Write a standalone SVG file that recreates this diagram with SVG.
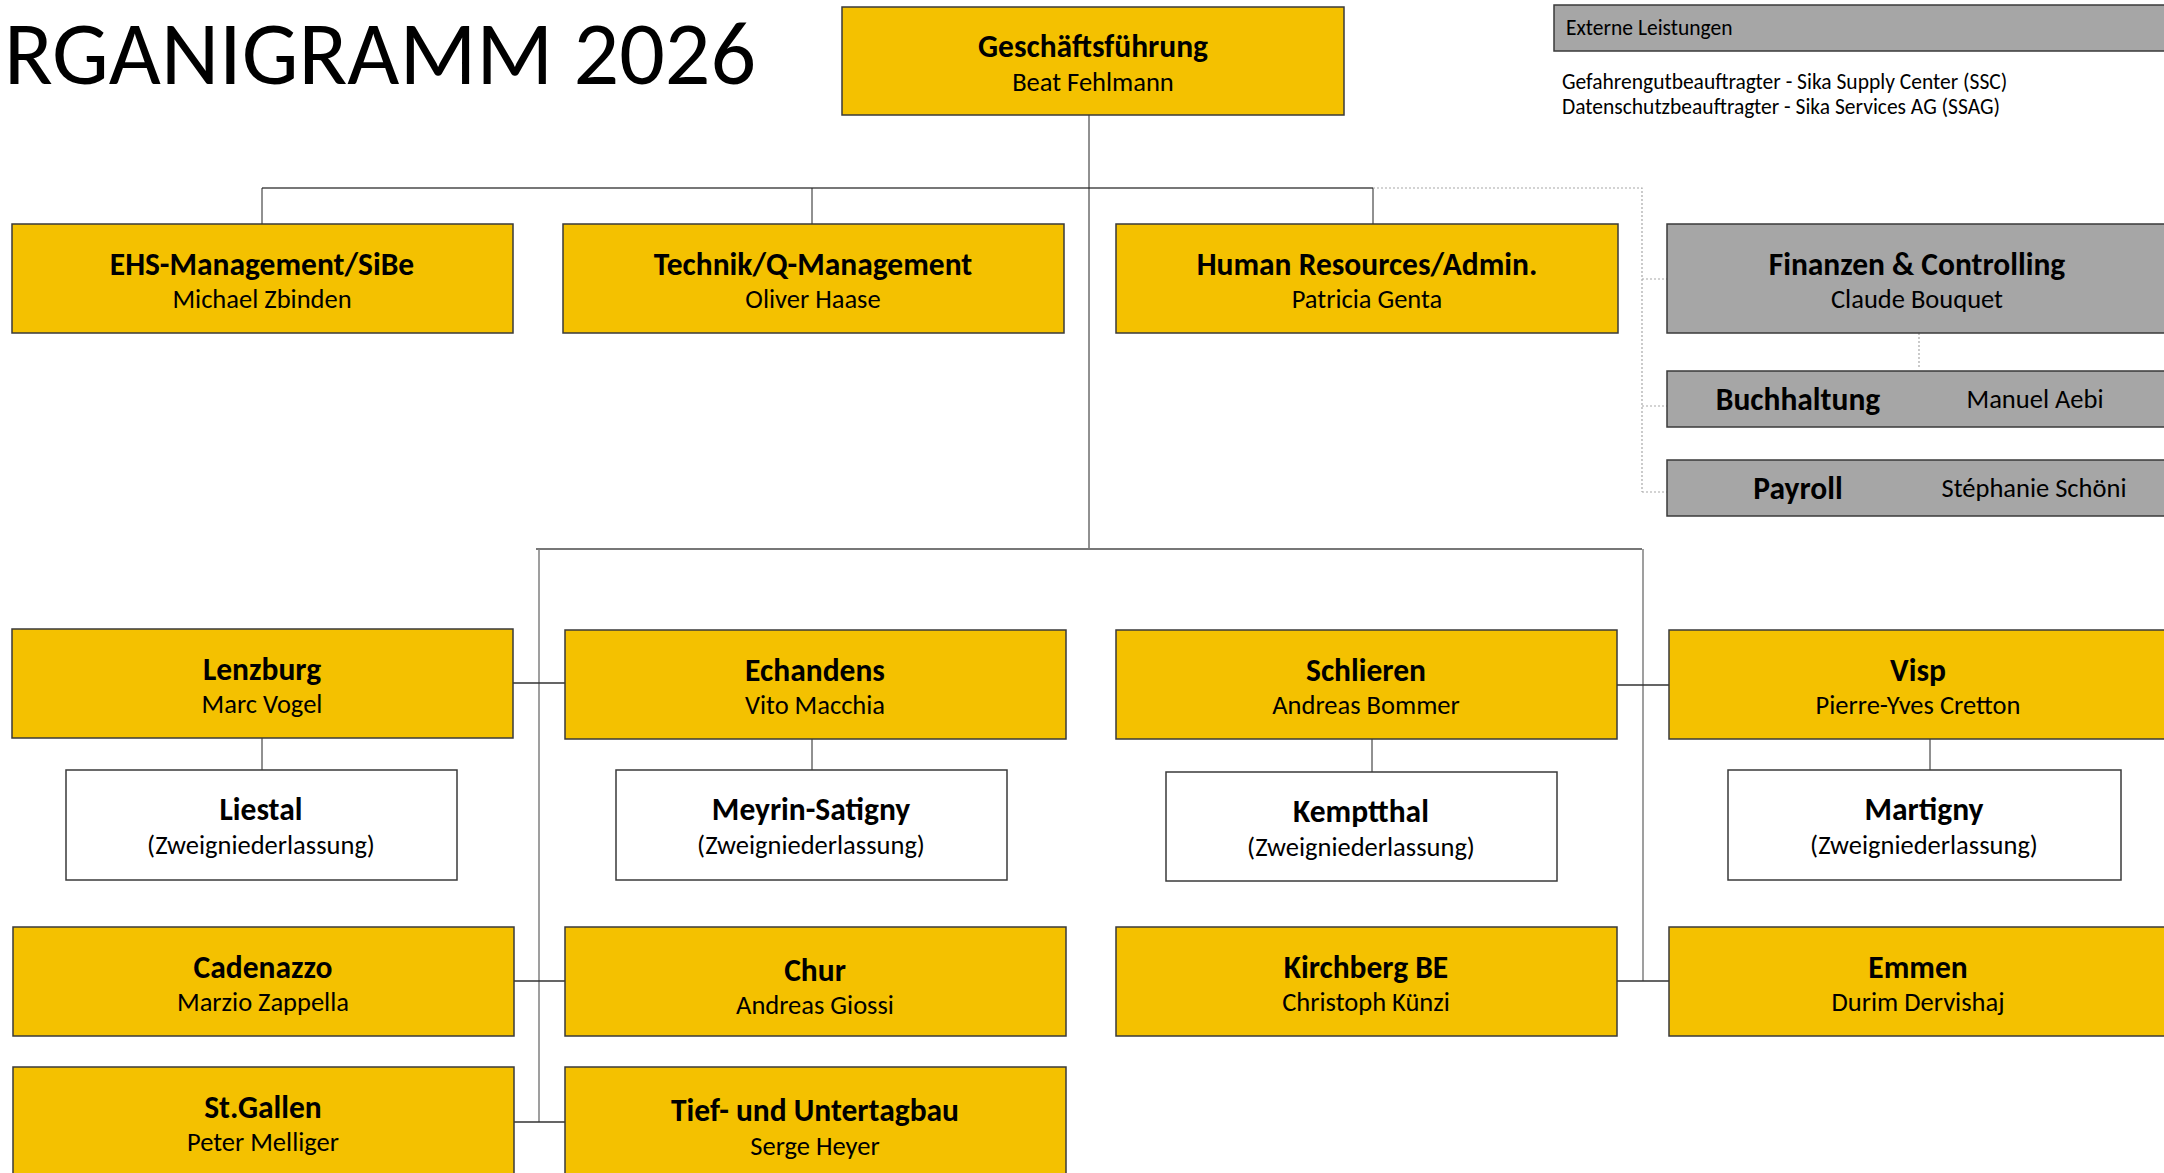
<svg xmlns="http://www.w3.org/2000/svg" width="2164" height="1173" viewBox="0 0 2164 1173">
<style>
text{font-family:Carlito,"Open Sans","Noto Sans",sans-serif;fill:#000}
.y{fill:#F4C100;stroke:#3a3a3a;stroke-width:1.5}
.g{fill:#A6A6A6;stroke:#3a3a3a;stroke-width:1.5}
.w{fill:#fff;stroke:#3a3a3a;stroke-width:1.5}
.h{font-weight:bold;font-size:31.5px;text-anchor:middle}
.n{font-size:26.5px;text-anchor:middle}
.s{font-size:21.5px}
.thin{stroke:#222;stroke-width:1;fill:none}
.bus{stroke:#777;stroke-width:2;fill:none}
.sp{stroke:#808080;stroke-width:1.5;fill:none}
.hc{stroke:#333;stroke-width:1.5;fill:none}
.dot{stroke:#a8a8a8;stroke-width:1.2;stroke-dasharray:2 2;fill:none}
</style>
<rect width="2164" height="1173" fill="#fff"/>
<text x="4" y="84" font-size="90">RGANIGRAMM 2026</text>

<g id="connectors">
<path class="bus" d="M262 188H1373"/>
<path class="thin" d="M1089 115V549M262 188V224M812 188V224M1373 188V224"/>
<path class="dot" d="M1373 188H1642V492M1642 279H1667M1642 406H1667M1642 492H1667M1919 333V368"/>
<path class="bus" d="M536 549H1642"/>
<path class="sp" d="M539 549V1122M1643 549V981"/>
<path class="hc" d="M513 683H565M514 981H565M514 1122H565M1617 685H1669M1617 981H1669"/>
<path class="thin" d="M262 738V770M812 739V770M1372 739V772M1930 739V770"/>
</g>

<g id="ext">
<rect class="g" x="1554" y="5" width="620" height="46"/>
<text class="s" x="1566" y="35">Externe Leistungen</text>
<text class="s" x="1562" y="89">Gefahrengutbeauftragter - Sika Supply Center (SSC)</text>
<text class="s" x="1562" y="114">Datenschutzbeauftragter - Sika Services AG (SSAG)</text>
</g>

<g id="gf"><rect class="y" x="842" y="7" width="502" height="108"/>
<text class="h" x="1093" y="57">Geschäftsführung</text><text class="n" x="1093" y="91">Beat Fehlmann</text></g>

<g id="ehs"><rect class="y" x="12" y="224" width="501" height="109"/>
<text class="h" x="262" y="275">EHS-Management/SiBe</text><text class="n" x="262" y="308">Michael Zbinden</text></g>
<g id="technik"><rect class="y" x="563" y="224" width="501" height="109"/>
<text class="h" x="813" y="275">Technik/Q-Management</text><text class="n" x="813" y="308">Oliver Haase</text></g>
<g id="hr"><rect class="y" x="1116" y="224" width="502" height="109"/>
<text class="h" x="1367" y="275">Human Resources/Admin.</text><text class="n" x="1367" y="308">Patricia Genta</text></g>
<g id="finanzen"><rect class="g" x="1667" y="224" width="510" height="109"/>
<text class="h" x="1917" y="275">Finanzen &amp; Controlling</text><text class="n" x="1917" y="308">Claude Bouquet</text></g>
<g id="buchhaltung"><rect class="g" x="1667" y="371" width="510" height="56"/>
<text class="h" x="1798" y="410">Buchhaltung</text><text class="n" x="2035" y="408">Manuel Aebi</text></g>
<g id="payroll"><rect class="g" x="1667" y="460" width="510" height="56"/>
<text class="h" x="1798" y="499">Payroll</text><text class="n" x="2034" y="497">Stéphanie Schöni</text></g>

<g id="lenzburg"><rect class="y" x="12" y="629" width="501" height="109"/>
<text class="h" x="262" y="680">Lenzburg</text><text class="n" x="262" y="713">Marc Vogel</text></g>
<g id="echandens"><rect class="y" x="565" y="630" width="501" height="109"/>
<text class="h" x="815" y="681">Echandens</text><text class="n" x="815" y="714">Vito Macchia</text></g>
<g id="schlieren"><rect class="y" x="1116" y="630" width="501" height="109"/>
<text class="h" x="1366" y="681">Schlieren</text><text class="n" x="1366" y="714">Andreas Bommer</text></g>
<g id="visp"><rect class="y" x="1669" y="630" width="510" height="109"/>
<text class="h" x="1918" y="681">Visp</text><text class="n" x="1918" y="714">Pierre-Yves Cretton</text></g>

<g id="liestal"><rect class="w" x="66" y="770" width="391" height="110"/>
<text class="h" x="261" y="820">Liestal</text><text class="n" x="261" y="854">(Zweigniederlassung)</text></g>
<g id="meyrin"><rect class="w" x="616" y="770" width="391" height="110"/>
<text class="h" x="811" y="820">Meyrin-Satigny</text><text class="n" x="811" y="854">(Zweigniederlassung)</text></g>
<g id="kemptthal"><rect class="w" x="1166" y="772" width="391" height="109"/>
<text class="h" x="1361" y="822">Kemptthal</text><text class="n" x="1361" y="856">(Zweigniederlassung)</text></g>
<g id="martigny"><rect class="w" x="1728" y="770" width="393" height="110"/>
<text class="h" x="1924" y="820">Martigny</text><text class="n" x="1924" y="854">(Zweigniederlassung)</text></g>

<g id="cadenazzo"><rect class="y" x="13" y="927" width="501" height="109"/>
<text class="h" x="263" y="978">Cadenazzo</text><text class="n" x="263" y="1011">Marzio Zappella</text></g>
<g id="chur"><rect class="y" x="565" y="927" width="501" height="109"/>
<text class="h" x="815" y="981">Chur</text><text class="n" x="815" y="1014">Andreas Giossi</text></g>
<g id="kirchberg"><rect class="y" x="1116" y="927" width="501" height="109"/>
<text class="h" x="1366" y="978">Kirchberg BE</text><text class="n" x="1366" y="1011">Christoph Künzi</text></g>
<g id="emmen"><rect class="y" x="1669" y="927" width="510" height="109"/>
<text class="h" x="1918" y="978">Emmen</text><text class="n" x="1918" y="1011">Durim Dervishaj</text></g>

<g id="stgallen"><rect class="y" x="13" y="1067" width="501" height="120"/>
<text class="h" x="263" y="1118">St.Gallen</text><text class="n" x="263" y="1151">Peter Melliger</text></g>
<g id="tief"><rect class="y" x="565" y="1067" width="501" height="120"/>
<text class="h" x="815" y="1121">Tief- und Untertagbau</text><text class="n" x="815" y="1155">Serge Heyer</text></g>
</svg>
